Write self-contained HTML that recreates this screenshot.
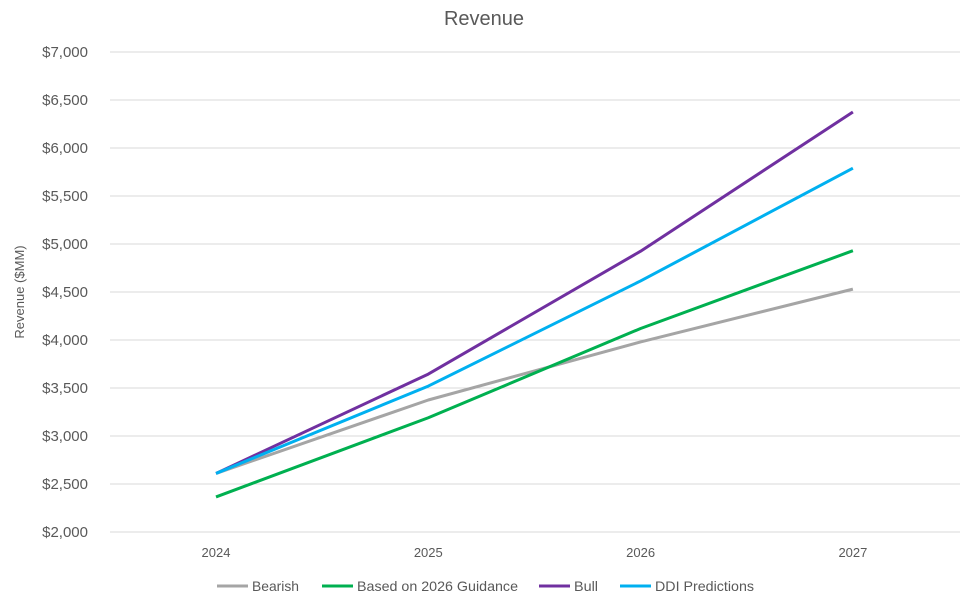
<!DOCTYPE html>
<html><head><meta charset="utf-8"><style>
body{margin:0;background:#fff;}
svg{display:block;font-family:"Liberation Sans",sans-serif;}
</style></head><body>
<svg id="chart" width="969" height="605">
<text x="484" y="25" text-anchor="middle" font-size="20" fill="#595959">Revenue</text>
<text transform="translate(24,292) rotate(-90)" text-anchor="middle" font-size="13" fill="#595959">Revenue ($MM)</text>
<g id="grid"></g><g id="xt"></g><g id="series"></g><g id="legend"></g>
</svg>
<script>
const years=["2024","2025","2026","2027"];
const yTicks=[2000,2500,3000,3500,4000,4500,5000,5500,6000,6500,7000];
const bearish=[2610,3375,3980,4530];
const guidance=[2365,3190,4120,4930];
const bull=[2610,3645,4925,6375];
const ddi=[2610,3520,4615,5790];
const names=["Bearish","Based on 2026 Guidance","Bull","DDI Predictions"];
const colors=["#a5a5a5","#00b050","#7030a0","#00b0f0"];
const all=[bearish,guidance,bull,ddi];
const NS="http://www.w3.org/2000/svg";
function yS(v){return 532-(v-2000)*480/5000;}
function xS(i){return 216+i*212.3;}
function mk(t,a,p){const e=document.createElementNS(NS,t);for(const k in a)e.setAttribute(k,a[k]);document.getElementById(p).appendChild(e);return e;}
yTicks.forEach(v=>{
 const l=mk("line",{x1:110,x2:960,y1:yS(v),y2:yS(v),stroke:"#d9d9d9","stroke-width":1},"grid");
 
 
 const t=mk("text",{x:88,y:yS(v)+5,"text-anchor":"end","font-size":15,fill:"#595959"},"grid");
 t.textContent="$"+v.toLocaleString("en-US");
 
 
});
years.forEach((y,i)=>{
 const t=mk("text",{x:xS(i),y:557,"text-anchor":"middle","font-size":13,fill:"#595959"},"xt");
 t.textContent=y;
 
 
});
all.forEach((s,k)=>{
 const p=mk("polyline",{points:s.map((v,i)=>xS(i)+","+yS(v)).join(" "),fill:"none",stroke:colors[k],"stroke-width":3,"stroke-linejoin":"round"},"series");
 
 
});
const lx=[217,322,539,620];
const tw=[47,161,24,99];
names.forEach((n,k)=>{
 const l=mk("line",{x1:lx[k],x2:lx[k]+31,y1:586,y2:586,stroke:colors[k],"stroke-width":3},"legend");
 
 
 const t=mk("text",{x:lx[k]+35,y:591,"font-size":14,fill:"#595959",textLength:tw[k],lengthAdjust:"spacingAndGlyphs"},"legend");
 t.textContent=n;
 
 
});
</script>
</body></html>
